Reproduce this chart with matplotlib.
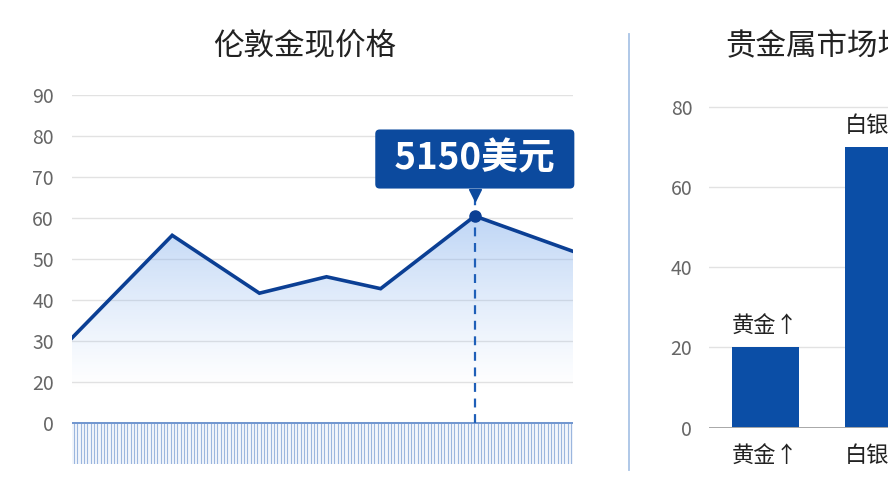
import numpy as np
import matplotlib.pyplot as plt
from matplotlib.patches import Polygon

plt.rcParams['font.family'] = ['Noto Sans CJK SC', 'DejaVu Sans']

# 伦敦金现价格 (left line chart)
line_title = '伦敦金现价格'
line_x = [0, 20, 37.4, 50.8, 61.6, 80.4, 100]
line_y = [30.8, 55.8, 41.7, 45.7, 42.8, 60.5, 51.9]
peak_label = '5150美元'
peak_idx = 5
y_tick_pos = [10, 20, 30, 40, 50, 60, 70, 80, 90]
y_tick_lab = ['0', '20', '30', '40', '50', '60', '70', '80', '90']

# 贵金属市场 (right bar chart)
bar_title = '贵金属市场均价'
bar_cats = ['黄金↑', '白银↑']
bar_vals = [20, 70]
bar_ticks = [0, 20, 40, 60, 80]

navy = '#0b3f94'
box_blue = '#0c4a9e'
bar_blue = '#0b4ea6'
grid_c = '#e2e2e2'
tick_c = '#666666'

W, H = 888, 500
fig = plt.figure(figsize=(W / 100, H / 100), dpi=100)
fig.patch.set_facecolor('white')

def px(l, b, r, t):
    return [l / W, (H - b) / H, (r - l) / W, (b - t) / H]

# ---------- left: line chart ----------
ax = fig.add_axes(px(72, 464.3, 573, 95))
ax.set_xlim(0, 100)
ax.set_ylim(0, 90)
for s in ax.spines.values():
    s.set_visible(False)
ax.set_yticks(y_tick_pos)
ax.set_yticklabels(y_tick_lab)
ax.tick_params(axis='y', length=0, pad=13, labelsize=14, labelcolor=tick_c)
ax.set_xticks([])
for v in y_tick_pos[1:]:
    ax.axhline(v, color=grid_c, lw=1, zorder=0)

# gradient area under the line
grad = np.zeros((256, 1, 4))
grad[:, 0, 0] = 0.53
grad[:, 0, 1] = 0.70
grad[:, 0, 2] = 0.93
grad[:, 0, 3] = np.linspace(0.62, 0.0, 256) ** 1.2
im = ax.imshow(grad, extent=[0, 100, 18, 62], aspect='auto', origin='upper', zorder=1)
poly = Polygon(list(zip(line_x, line_y)) + [(100, 10), (0, 10)], closed=True,
               transform=ax.transData, facecolor='none', edgecolor='none')
ax.add_patch(poly)
im.set_clip_path(poly)

ax.plot(line_x, line_y, color=navy, lw=2.6, zorder=4, solid_joinstyle='miter')
ax.plot(line_x[peak_idx], line_y[peak_idx], 'o', color=navy, ms=8, zorder=5)

# striped band under the axis
ax.axhspan(0, 10, color='#f2f6fc', zorder=1, lw=0)
xs = np.linspace(0.4, 99.6, 150)
ax.vlines(xs, 0, 10, color='#9bb6de', lw=0.8, zorder=2)
ax.axhline(10, color='#6f95cf', lw=1.4, zorder=3)

# dashed marker line + label box
px_peak = line_x[peak_idx]
ax.vlines(px_peak, 10, 66.5, color='#1f5fb8', lw=1.6, linestyles=(0, (4, 3)), zorder=3)
ax.plot(px_peak, 65.6, marker='v', ms=8, color=box_blue, zorder=6)
ax.text(px_peak, 74.4, ' ' + peak_label + ' ', ha='center', va='center', color='white',
        fontsize=26.5, fontweight='bold', zorder=7,
        bbox=dict(boxstyle='round,pad=0.3,rounding_size=0.12', fc=box_blue, ec='none'))

fig.text(305 / W, 1 - 46 / H, line_title, ha='center', va='center',
         fontsize=22, color='#222222')

# separator
fig.add_artist(plt.Line2D([629 / W, 629 / W], [1 - 34 / H, 1 - 470 / H],
                          color='#a9c4e6', lw=1.3))

# ---------- right: bar chart ----------
bx = fig.add_axes(px(709, 427.7, 709 + 2 * 113, 86.6))
bx.set_xlim(-0.5, 1.5)
bx.set_ylim(0, 85)
for s in bx.spines.values():
    s.set_visible(False)
bx.set_yticks(bar_ticks)
bx.tick_params(axis='y', length=0, pad=12, labelsize=14, labelcolor=tick_c)
for v in bar_ticks[1:]:
    bx.axhline(v, color=grid_c, lw=1, zorder=0)
bx.axhline(0, color='#a8a8a8', lw=1.4, zorder=3)
bars = bx.bar(range(len(bar_cats)), bar_vals, width=0.59, color=bar_blue, zorder=2)
bx.bar_label(bars, labels=bar_cats, padding=7, fontsize=16, color='#222222')
bx.set_xticks(range(len(bar_cats)))
bx.set_xticklabels(bar_cats)
bx.tick_params(axis='x', length=0, pad=12, labelsize=16, labelcolor='#222222')

fig.text(725 / W, 1 - 46 / H, bar_title, ha='left', va='center',
         fontsize=22, color='#222222')

fig.savefig('out.png', dpi=100)
